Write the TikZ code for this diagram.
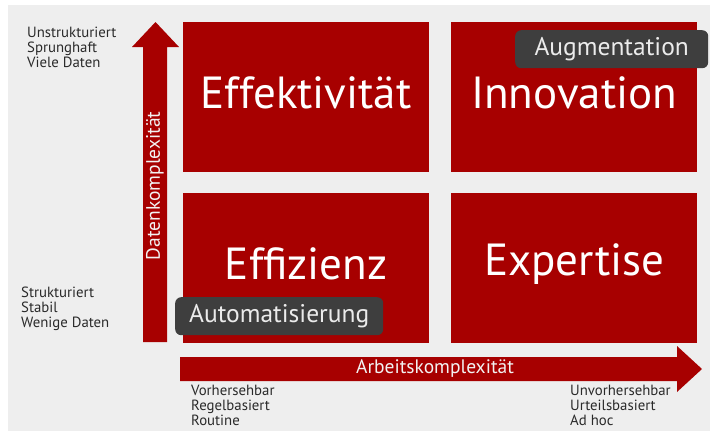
\documentclass[tikz,border=0pt]{standalone}
\usepackage{fontspec}
\setmainfont{PT Sans}
\definecolor{quadred}{HTML}{A70000}
\definecolor{taggray}{HTML}{3E3E3E}
\definecolor{bggray}{HTML}{EEEEEE}
\definecolor{labelgray}{HTML}{2A2A2A}
\begin{document}
\begin{tikzpicture}[x=1pt,y=-1pt,
  quad/.style={fill=quadred, draw=none, anchor=north west, inner sep=0pt,
    minimum width=246pt, minimum height=150pt},
  quadtext/.style={text=white, inner sep=0pt, font=\fontsize{45}{50}\selectfont},
  tag/.style={fill=taggray, rounded corners=6pt, inner sep=0pt, anchor=north west,
    text=white!92!black, font=\fontsize{25.5}{28}\selectfont},
  axistext/.style={text=white!95!black, inner sep=0pt, font=\fontsize{19.5}{22}\selectfont},
  sidelabel/.style={text=labelgray, inner sep=0pt, align=left, anchor=north west,
    font=\fontsize{14.8}{15.2}\selectfont},
  axisfill/.style={fill=quadred}
]
\useasboundingbox (0,0) rectangle (710,432);
% page and soft grey backdrop
\fill[white] (0,0) rectangle (710,432);
\fill[bggray] (8,5) rectangle (710,431);

% four quadrants
\node[quad] (q11) at (183,22) {};
\node[quad] (q12) at (451,22) {};
\node[quad] (q21) at (183,193) {};
\node[quad] (q22) at (451,193) {};
\node[quadtext, yshift=4pt] (t11) at (q11.center) {Effektivität};
\node[quadtext, yshift=4pt] (t12) at (q12.center) {Innovation};
\node[quadtext, yshift=4pt] (t21) at (q21.center) {Effizienz};
\node[quadtext, yshift=4pt] (t22) at (q22.center) {Expertise};

% vertical axis arrow (data complexity)
\fill[axisfill] (143,342) -- (143,47) -- (132,47) -- (155.5,22) -- (179,47)
  -- (167,47) -- (167,342) -- cycle;
\node[axistext, rotate=90] (ydesc) at (155,186) {Datenkomplexität};

% horizontal axis arrow (work complexity)
\fill[axisfill] (180,357) -- (677,357) -- (677,346) -- (702,369) -- (677,392)
  -- (677,381) -- (180,381) -- cycle;
\node[axistext] (xdesc) at (435,369) {Arbeitskomplexität};

% tags
\node[tag, minimum width=208pt, minimum height=38pt] (auto) at (175,297) {Automatisierung};
\node[tag, minimum width=193pt, minimum height=38pt] (augm) at (515,30) {Augmentation};

% side labels
\node[sidelabel] (ytop) at (27,26.5) {Unstrukturiert\\Sprunghaft\\Viele Daten};
\node[sidelabel] (ybot) at (21,286.5) {Strukturiert\\Stabil\\Wenige Daten};
\node[sidelabel] (xleft) at (191,384.5) {Vorhersehbar\\Regelbasiert\\Routine};
\node[sidelabel] (xright) at (570,384.5) {Unvorhersehbar\\Urteilsbasiert\\Ad hoc};
\end{tikzpicture}
\end{document}
